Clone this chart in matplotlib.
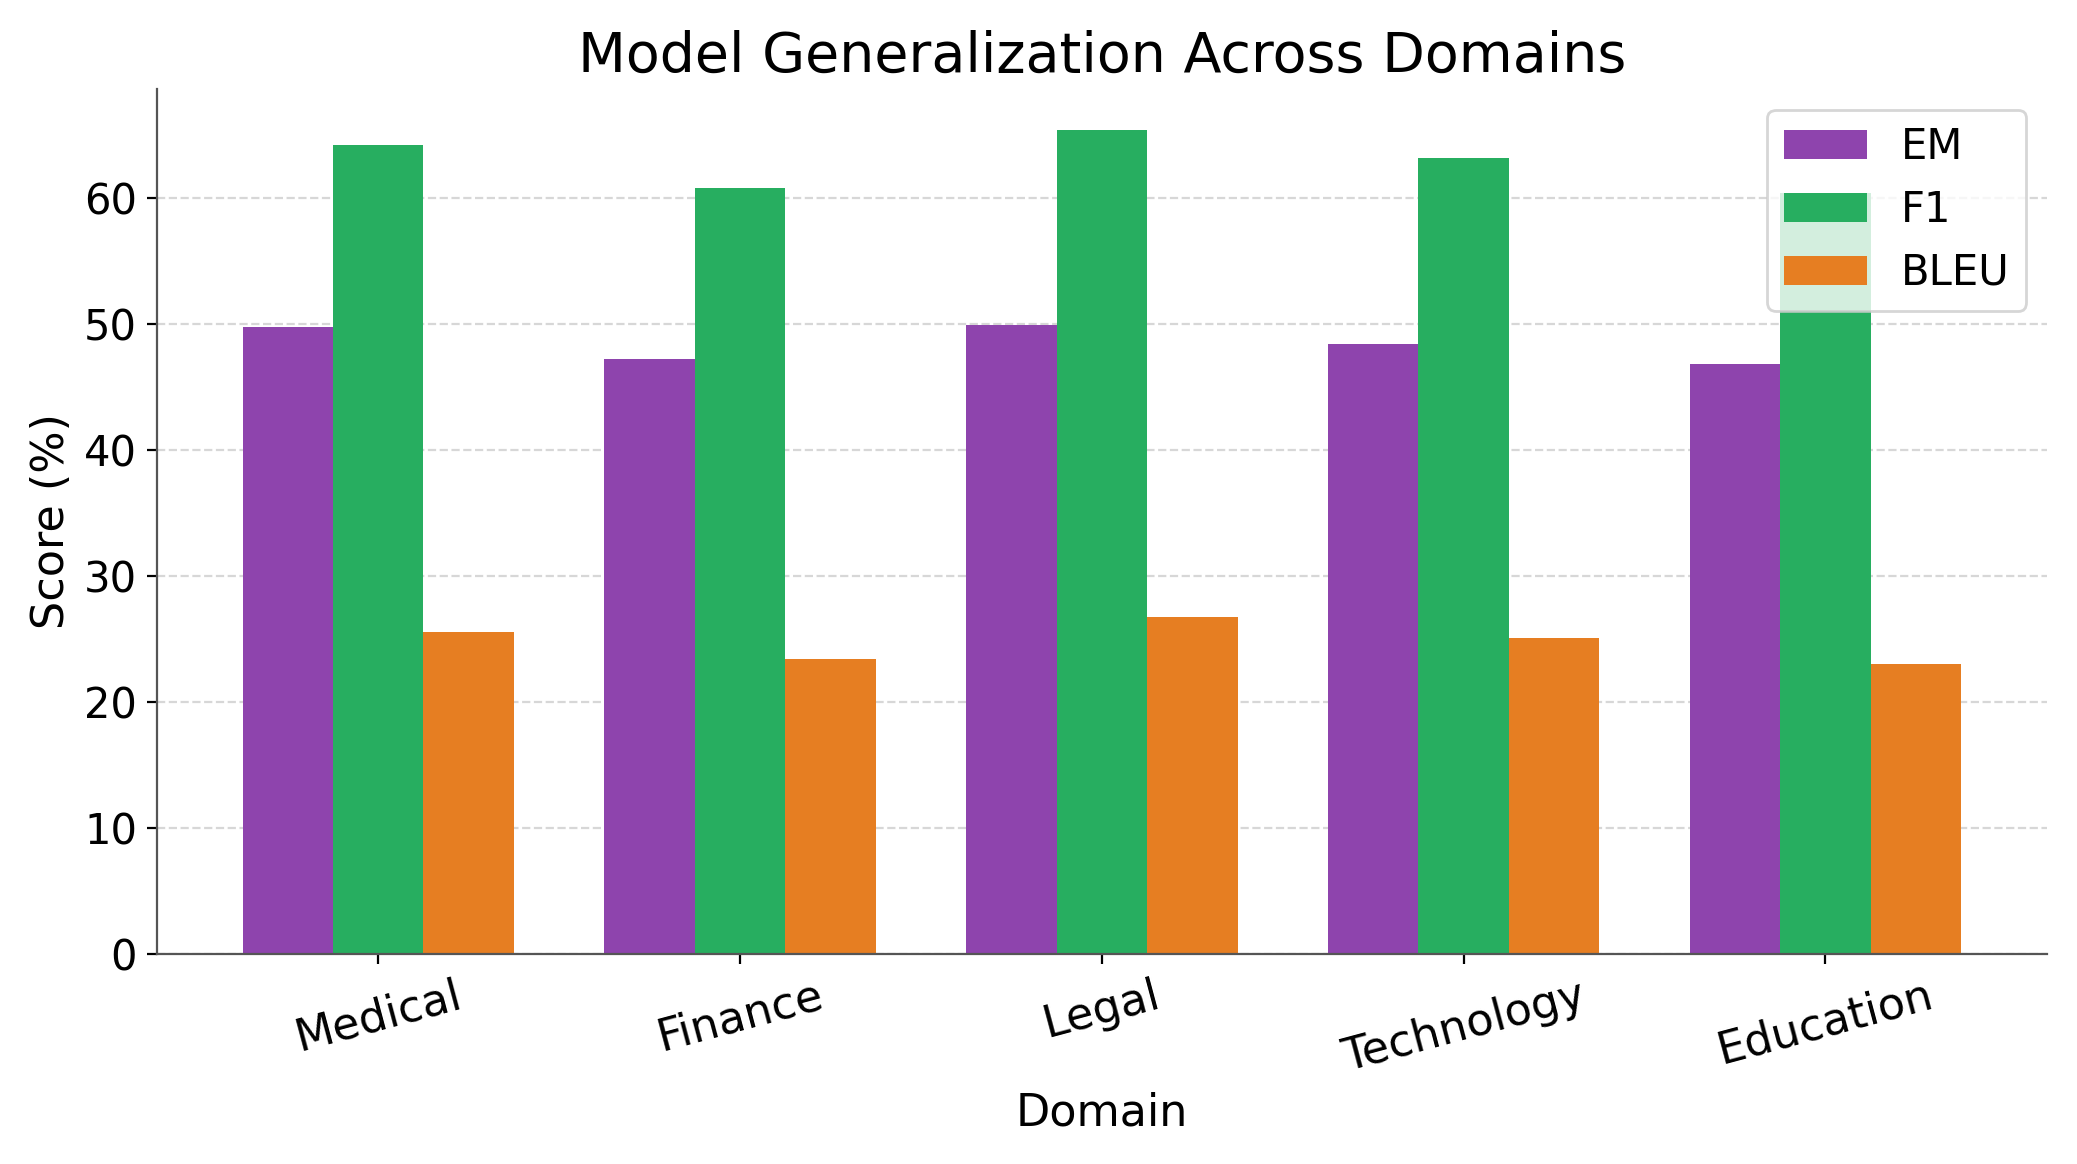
import numpy as np
import matplotlib.pyplot as plt

# data
domains = ["Medical", "Finance", "Legal", "Technology", "Education"]
em = [49.8, 47.2, 49.9, 48.4, 46.8]
f1 = [64.2, 60.8, 65.4, 63.2, 60.4]
bleu = [25.6, 23.4, 26.8, 25.1, 23.0]

x = np.arange(len(domains))
w = 0.25

fig, ax = plt.subplots(figsize=(10.385, 5.82), dpi=200)

ax.bar(x - w, em, w, label="EM", color="#8e44ad")
ax.bar(x, f1, w, label="F1", color="#27ae60")
ax.bar(x + w, bleu, w, label="BLEU", color="#e67e22")

ax.set_title("Model Generalization Across Domains", fontsize=20)
ax.set_xlabel("Domain", fontsize=16)
ax.set_ylabel("Score (%)", fontsize=16)
ax.set_xticks(x)
ax.set_xticklabels(domains, rotation=15, fontsize=16)
ax.tick_params(axis="y", labelsize=15)

ax.grid(axis="y", linestyle="--", alpha=0.5)
ax.set_axisbelow(True)
ax.spines["top"].set_visible(False)
ax.spines["right"].set_visible(False)
ax.spines["left"].set_color("#555555")
ax.spines["bottom"].set_color("#555555")

ax.legend(loc="upper right", fontsize=15)

plt.tight_layout()
plt.savefig("out.png", dpi=200)
